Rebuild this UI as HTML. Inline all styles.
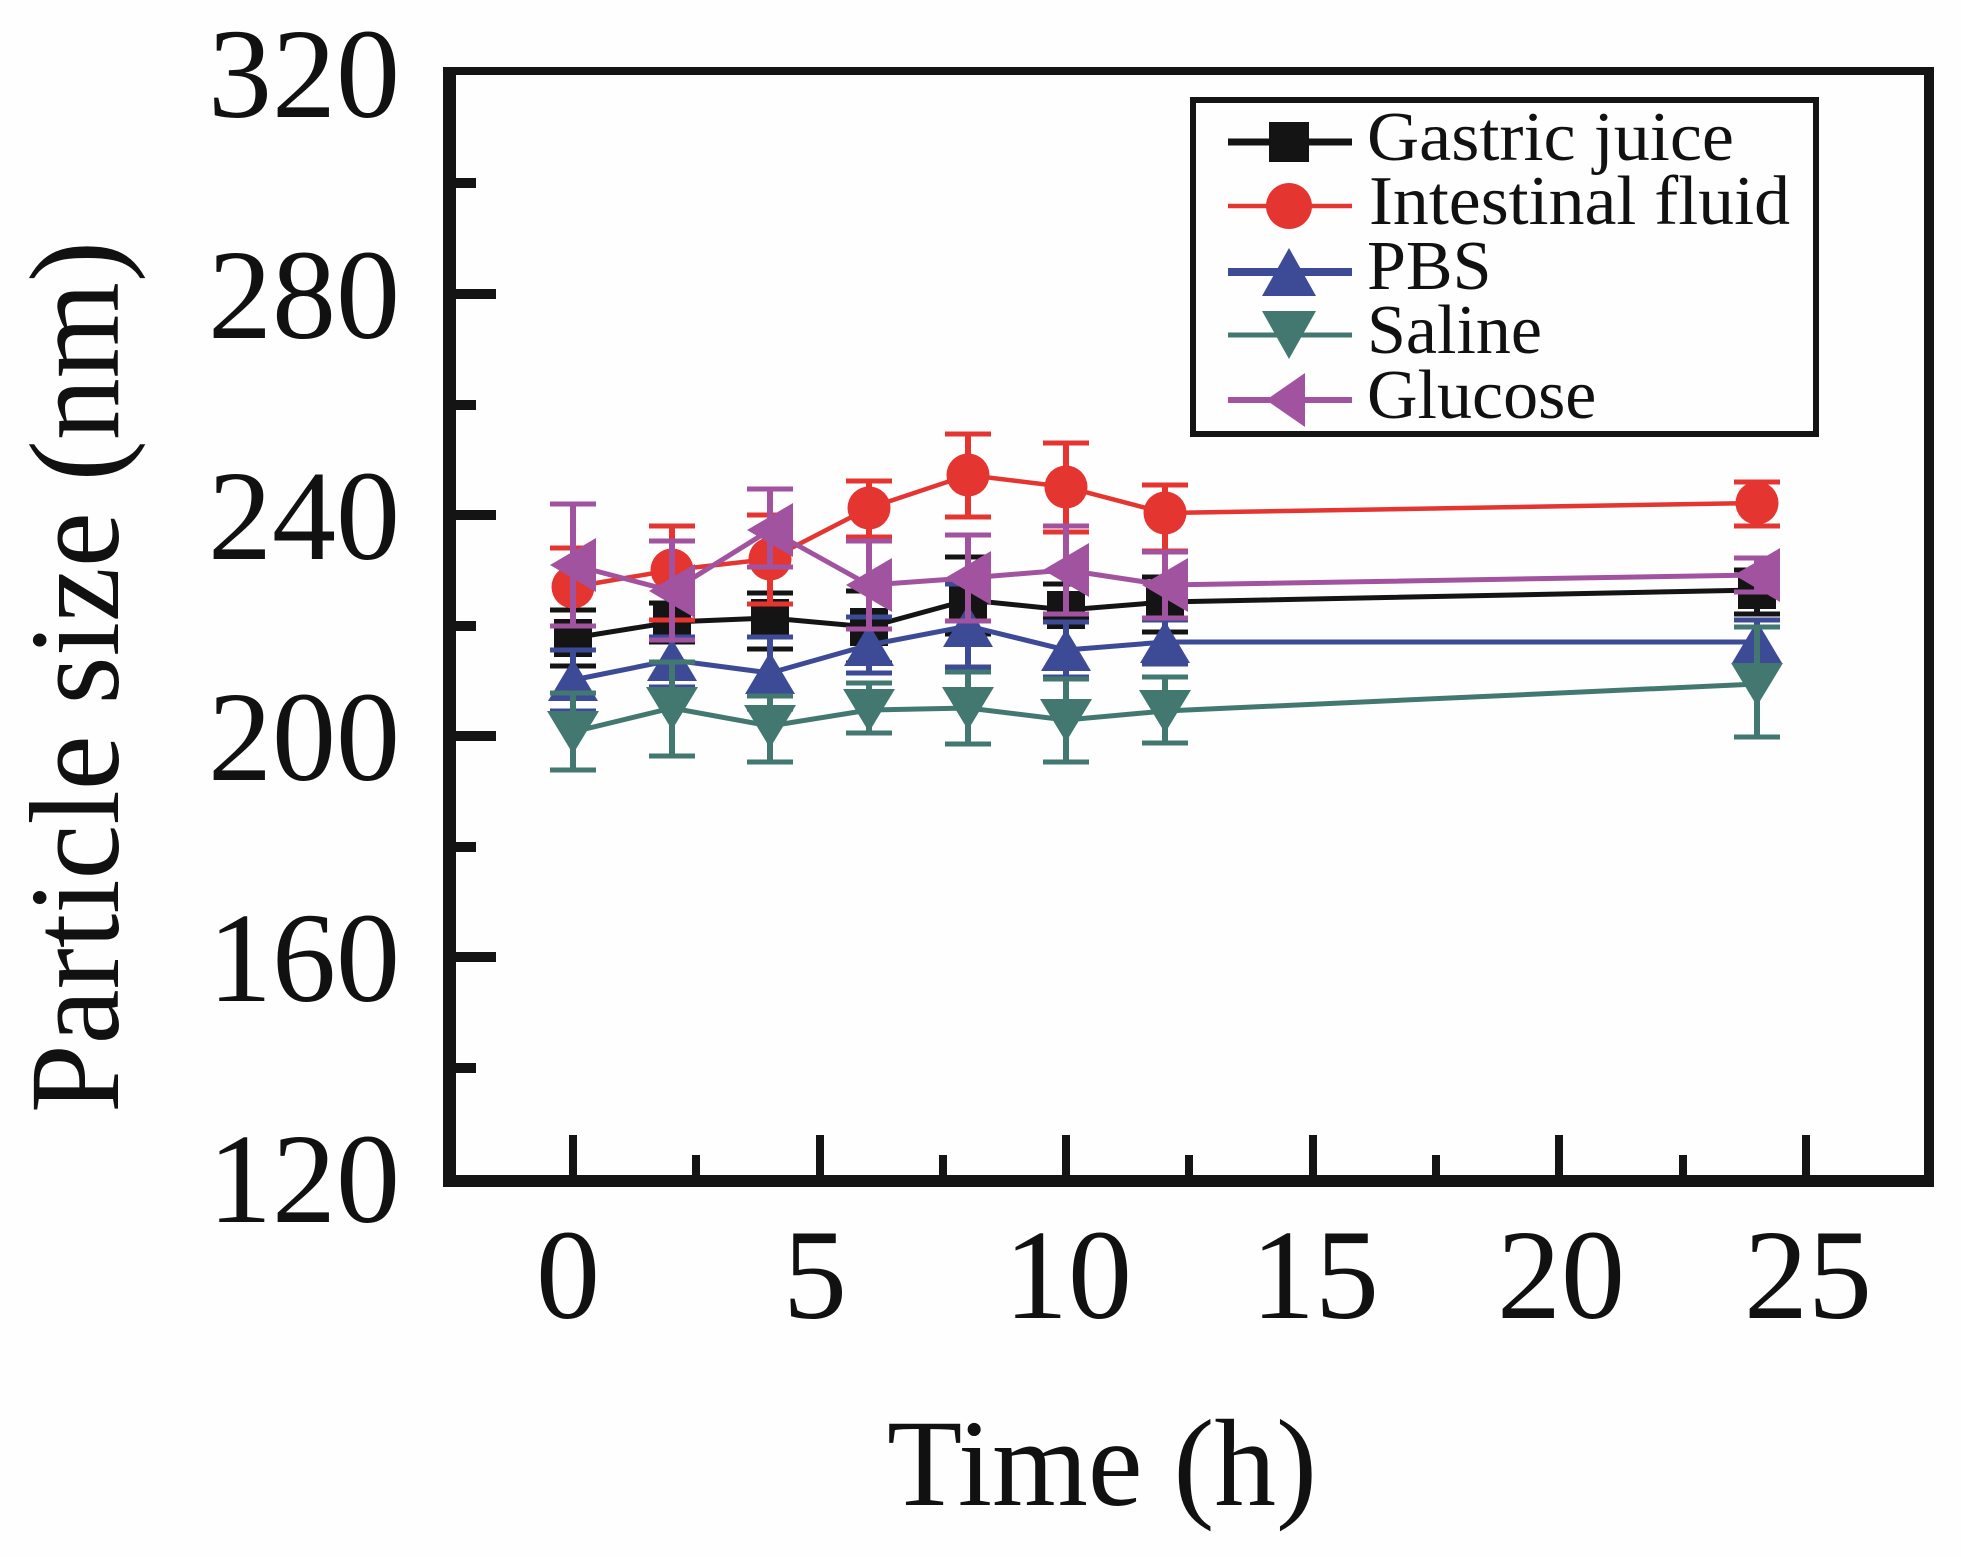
<!DOCTYPE html>
<html>
<head>
<meta charset="utf-8">
<style>
  html, body { margin: 0; padding: 0; background: #fff; }
  svg { display: block; }
  text { font-family: "Liberation Serif", "DejaVu Serif", serif; fill: #111; }
</style>
</head>
<body>
<svg width="1961" height="1557" viewBox="0 0 1961 1557" xmlns="http://www.w3.org/2000/svg">
  <rect x="0" y="0" width="1961" height="1557" fill="#fefefe"/>

  <!-- Frame -->
  <rect x="443" y="67" width="1491" height="1120" fill="#141414"/>
  <rect x="456" y="75" width="1468" height="1100" fill="#fefefe"/>

  <!-- Y ticks (inward from left axis) -->
  <g fill="#141414">
    <rect x="456" y="289" width="40" height="10"/>
    <rect x="456" y="510" width="40" height="10"/>
    <rect x="456" y="731" width="40" height="10"/>
    <rect x="456" y="952" width="40" height="10"/>
    <rect x="456" y="178" width="20" height="10"/>
    <rect x="456" y="400" width="20" height="10"/>
    <rect x="456" y="621" width="20" height="10"/>
    <rect x="456" y="842" width="20" height="10"/>
    <rect x="456" y="1063" width="20" height="10"/>
  </g>
  <!-- X ticks -->
  <g fill="#141414">
    <rect x="569" y="1135" width="8" height="40"/>
    <rect x="816" y="1135" width="8" height="40"/>
    <rect x="1062" y="1135" width="8" height="40"/>
    <rect x="1309" y="1135" width="8" height="40"/>
    <rect x="1555" y="1135" width="8" height="40"/>
    <rect x="1802" y="1135" width="8" height="40"/>
    <rect x="692" y="1155" width="8" height="20"/>
    <rect x="939" y="1155" width="8" height="20"/>
    <rect x="1185" y="1155" width="8" height="20"/>
    <rect x="1432" y="1155" width="8" height="20"/>
    <rect x="1679" y="1155" width="8" height="20"/>
  </g>

  <!-- Y tick labels -->
  <g font-size="128" text-anchor="end">
    <text x="400" y="117">320</text>
    <text x="400" y="338">280</text>
    <text x="400" y="559">240</text>
    <text x="400" y="780">200</text>
    <text x="400" y="1001">160</text>
    <text x="400" y="1222">120</text>
  </g>
  <!-- X tick labels -->
  <g font-size="128" text-anchor="middle">
    <text x="568" y="1318">0</text>
    <text x="815" y="1318">5</text>
    <text x="1068" y="1318">10</text>
    <text x="1315" y="1318">15</text>
    <text x="1561" y="1318">20</text>
    <text x="1808" y="1318">25</text>
  </g>

  <!-- Axis titles -->
  <text x="1102" y="1505" font-size="124" text-anchor="middle" textLength="430" lengthAdjust="spacingAndGlyphs">Time (h)</text>
  <text transform="translate(118,677) rotate(-90)" font-size="128" text-anchor="middle" textLength="872" lengthAdjust="spacingAndGlyphs">Particle size (nm)</text>

  <!-- Series -->
  <!-- x: 573 + t*49.32 ; y: 515 - (v-240)*5.525 -->
  <!-- Black: Gastric juice -->
  <g id="black" stroke="#141414" fill="#141414">
    <g stroke-width="6">
      <line x1="573" y1="610" x2="573" y2="666"/><line x1="672" y1="603" x2="672" y2="642"/>
      <line x1="770" y1="593" x2="770" y2="649"/><line x1="869" y1="591" x2="869" y2="663"/>
      <line x1="968" y1="557" x2="968" y2="634"/><line x1="1066" y1="584" x2="1066" y2="618"/>
      <line x1="1165" y1="577" x2="1165" y2="632"/><line x1="1757" y1="570" x2="1757" y2="614"/>
    </g>
    <g stroke-width="5">
      <line x1="550" y1="610" x2="596" y2="610"/><line x1="550" y1="666" x2="596" y2="666"/>
      <line x1="649" y1="603" x2="695" y2="603"/><line x1="649" y1="642" x2="695" y2="642"/>
      <line x1="747" y1="593" x2="793" y2="593"/><line x1="747" y1="649" x2="793" y2="649"/>
      <line x1="846" y1="591" x2="892" y2="591"/><line x1="846" y1="663" x2="892" y2="663"/>
      <line x1="945" y1="557" x2="991" y2="557"/><line x1="945" y1="634" x2="991" y2="634"/>
      <line x1="1043" y1="584" x2="1089" y2="584"/><line x1="1043" y1="618" x2="1089" y2="618"/>
      <line x1="1142" y1="577" x2="1188" y2="577"/><line x1="1142" y1="632" x2="1188" y2="632"/>
      <line x1="1734" y1="570" x2="1780" y2="570"/><line x1="1734" y1="614" x2="1780" y2="614"/>
    </g>
    <polyline fill="none" stroke-width="5" points="573,638 672,622 770,618 869,627 968,600 1066,610 1165,602 1757,590"/>
    <g stroke="none">
      <rect x="554" y="619" width="38" height="38"/><rect x="653" y="603" width="38" height="38"/>
      <rect x="751" y="599" width="38" height="38"/><rect x="850" y="608" width="38" height="38"/>
      <rect x="949" y="581" width="38" height="38"/><rect x="1047" y="591" width="38" height="38"/>
      <rect x="1146" y="583" width="38" height="38"/><rect x="1738" y="571" width="38" height="38"/>
    </g>
  </g>

  <!-- Red: Intestinal fluid -->
  <g stroke="#E53530" fill="#E53530">
    <g stroke-width="6">
      <line x1="573" y1="548" x2="573" y2="626"/><line x1="672" y1="526" x2="672" y2="620"/>
      <line x1="770" y1="515" x2="770" y2="604"/><line x1="869" y1="481" x2="869" y2="537"/>
      <line x1="968" y1="434" x2="968" y2="517"/><line x1="1066" y1="443" x2="1066" y2="532"/>
      <line x1="1165" y1="485" x2="1165" y2="551"/><line x1="1757" y1="482" x2="1757" y2="526"/>
    </g>
    <g stroke-width="5">
      <line x1="550" y1="548" x2="596" y2="548"/><line x1="550" y1="626" x2="596" y2="626"/>
      <line x1="649" y1="526" x2="695" y2="526"/><line x1="649" y1="620" x2="695" y2="620"/>
      <line x1="747" y1="515" x2="793" y2="515"/><line x1="747" y1="604" x2="793" y2="604"/>
      <line x1="846" y1="481" x2="892" y2="481"/><line x1="846" y1="537" x2="892" y2="537"/>
      <line x1="945" y1="434" x2="991" y2="434"/><line x1="945" y1="517" x2="991" y2="517"/>
      <line x1="1043" y1="443" x2="1089" y2="443"/><line x1="1043" y1="532" x2="1089" y2="532"/>
      <line x1="1142" y1="485" x2="1188" y2="485"/><line x1="1142" y1="551" x2="1188" y2="551"/>
      <line x1="1734" y1="482" x2="1780" y2="482"/><line x1="1734" y1="526" x2="1780" y2="526"/>
    </g>
    <polyline fill="none" stroke-width="4.5" points="573,587 672,570 770,559 869,508 968,475 1066,487 1165,513 1757,503"/>
    <g stroke="none">
      <circle cx="573" cy="587" r="21.5"/><circle cx="672" cy="570" r="21.5"/>
      <circle cx="770" cy="559" r="21.5"/><circle cx="869" cy="508" r="21.5"/>
      <circle cx="968" cy="475" r="21.5"/><circle cx="1066" cy="487" r="21.5"/>
      <circle cx="1165" cy="513" r="21.5"/><circle cx="1757" cy="503" r="21.5"/>
    </g>
  </g>

  <!-- Blue: PBS -->
  <g stroke="#3D4A96" fill="#3D4A96">
    <g stroke-width="6">
      <line x1="573" y1="650" x2="573" y2="711"/><line x1="672" y1="637" x2="672" y2="687"/>
      <line x1="770" y1="637" x2="770" y2="709"/><line x1="869" y1="617" x2="869" y2="673"/>
      <line x1="968" y1="584" x2="968" y2="667"/><line x1="1066" y1="622" x2="1066" y2="677"/>
      <line x1="1165" y1="620" x2="1165" y2="664"/><line x1="1757" y1="620" x2="1757" y2="664"/>
    </g>
    <g stroke-width="5">
      <line x1="550" y1="650" x2="596" y2="650"/><line x1="550" y1="711" x2="596" y2="711"/>
      <line x1="649" y1="637" x2="695" y2="637"/><line x1="649" y1="687" x2="695" y2="687"/>
      <line x1="747" y1="637" x2="793" y2="637"/><line x1="747" y1="709" x2="793" y2="709"/>
      <line x1="846" y1="617" x2="892" y2="617"/><line x1="846" y1="673" x2="892" y2="673"/>
      <line x1="945" y1="584" x2="991" y2="584"/><line x1="945" y1="667" x2="991" y2="667"/>
      <line x1="1043" y1="622" x2="1089" y2="622"/><line x1="1043" y1="677" x2="1089" y2="677"/>
      <line x1="1142" y1="620" x2="1188" y2="620"/><line x1="1142" y1="664" x2="1188" y2="664"/>
      <line x1="1734" y1="620" x2="1780" y2="620"/><line x1="1734" y1="664" x2="1780" y2="664"/>
    </g>
    <polyline fill="none" stroke-width="5" points="573,680 672,660 770,673 869,645 968,626 1066,650 1165,642 1757,642"/>
    <g stroke="none">
      <polygon points="573,659 598,701 548,701"/><polygon points="672,639 697,681 647,681"/>
      <polygon points="770,652 795,694 745,694"/><polygon points="869,624 894,666 844,666"/>
      <polygon points="968,605 993,647 943,647"/><polygon points="1066,629 1091,671 1041,671"/>
      <polygon points="1165,621 1190,663 1140,663"/><polygon points="1757,621 1782,663 1732,663"/>
    </g>
  </g>

  <!-- Teal: Saline -->
  <g stroke="#437870" fill="#437870">
    <g stroke-width="6">
      <line x1="573" y1="693" x2="573" y2="770"/><line x1="672" y1="662" x2="672" y2="756"/>
      <line x1="770" y1="696" x2="770" y2="762"/><line x1="869" y1="683" x2="869" y2="733"/>
      <line x1="968" y1="672" x2="968" y2="744"/><line x1="1066" y1="679" x2="1066" y2="762"/>
      <line x1="1165" y1="677" x2="1165" y2="743"/><line x1="1757" y1="627" x2="1757" y2="737"/>
    </g>
    <g stroke-width="5">
      <line x1="550" y1="693" x2="596" y2="693"/><line x1="550" y1="770" x2="596" y2="770"/>
      <line x1="649" y1="662" x2="695" y2="662"/><line x1="649" y1="756" x2="695" y2="756"/>
      <line x1="747" y1="696" x2="793" y2="696"/><line x1="747" y1="762" x2="793" y2="762"/>
      <line x1="846" y1="683" x2="892" y2="683"/><line x1="846" y1="733" x2="892" y2="733"/>
      <line x1="945" y1="672" x2="991" y2="672"/><line x1="945" y1="744" x2="991" y2="744"/>
      <line x1="1043" y1="679" x2="1089" y2="679"/><line x1="1043" y1="762" x2="1089" y2="762"/>
      <line x1="1142" y1="677" x2="1188" y2="677"/><line x1="1142" y1="743" x2="1188" y2="743"/>
      <line x1="1734" y1="627" x2="1780" y2="627"/><line x1="1734" y1="737" x2="1780" y2="737"/>
    </g>
    <polyline fill="none" stroke-width="5" points="573,732 672,708 770,726 869,710 968,708 1066,720 1165,711 1757,684"/>
    <g stroke="none">
      <polygon points="547,711 599,711 573,754"/><polygon points="646,687 698,687 672,730"/>
      <polygon points="744,705 796,705 770,748"/><polygon points="843,689 895,689 869,732"/>
      <polygon points="942,687 994,687 968,730"/><polygon points="1040,699 1092,699 1066,742"/>
      <polygon points="1139,690 1191,690 1165,733"/><polygon points="1731,663 1783,663 1757,706"/>
    </g>
  </g>

  <!-- Purple: Glucose -->
  <g stroke="#A153A0" fill="#A153A0">
    <g stroke-width="6">
      <line x1="573" y1="504" x2="573" y2="626"/><line x1="672" y1="541" x2="672" y2="640"/>
      <line x1="770" y1="489" x2="770" y2="567"/><line x1="869" y1="541" x2="869" y2="629"/>
      <line x1="968" y1="535" x2="968" y2="621"/><line x1="1066" y1="526" x2="1066" y2="614"/>
      <line x1="1165" y1="552" x2="1165" y2="618"/><line x1="1757" y1="558" x2="1757" y2="592"/>
    </g>
    <g stroke-width="5">
      <line x1="550" y1="504" x2="596" y2="504"/><line x1="550" y1="626" x2="596" y2="626"/>
      <line x1="649" y1="541" x2="695" y2="541"/><line x1="649" y1="640" x2="695" y2="640"/>
      <line x1="747" y1="489" x2="793" y2="489"/><line x1="747" y1="567" x2="793" y2="567"/>
      <line x1="846" y1="541" x2="892" y2="541"/><line x1="846" y1="629" x2="892" y2="629"/>
      <line x1="945" y1="535" x2="991" y2="535"/><line x1="945" y1="621" x2="991" y2="621"/>
      <line x1="1043" y1="526" x2="1089" y2="526"/><line x1="1043" y1="614" x2="1089" y2="614"/>
      <line x1="1142" y1="552" x2="1188" y2="552"/><line x1="1142" y1="618" x2="1188" y2="618"/>
      <line x1="1734" y1="558" x2="1780" y2="558"/><line x1="1734" y1="592" x2="1780" y2="592"/>
    </g>
    <polyline fill="none" stroke-width="5" points="573,565 672,591 770,530 869,585 968,578 1066,570 1165,585 1757,575"/>
    <g stroke="none">
      <polygon points="550,565 596,538 596,592"/><polygon points="649,591 695,564 695,618"/>
      <polygon points="747,530 793,503 793,557"/><polygon points="846,585 892,558 892,612"/>
      <polygon points="945,578 991,551 991,605"/><polygon points="1043,570 1089,543 1089,597"/>
      <polygon points="1142,585 1188,558 1188,612"/><polygon points="1734,575 1780,548 1780,602"/>
    </g>
  </g>

  <!-- Legend -->
  <rect x="1193" y="100" width="623" height="334" fill="#fefefe" stroke="#141414" stroke-width="6"/>
  <g>
    <line x1="1228" y1="142" x2="1352" y2="142" stroke="#141414" stroke-width="7"/>
    <rect x="1269" y="122" width="40" height="40" fill="#141414"/>
    <line x1="1228" y1="206" x2="1352" y2="206" stroke="#E53530" stroke-width="4.5"/>
    <circle cx="1289" cy="206" r="23" fill="#E53530"/>
    <line x1="1228" y1="272" x2="1352" y2="272" stroke="#3D4A96" stroke-width="8"/>
    <polygon points="1289,248 1316,296 1262,296" fill="#3D4A96"/>
    <line x1="1228" y1="335" x2="1352" y2="335" stroke="#437870" stroke-width="5"/>
    <polygon points="1262,311 1316,311 1289,359" fill="#437870"/>
    <line x1="1228" y1="400" x2="1352" y2="400" stroke="#A153A0" stroke-width="6"/>
    <polygon points="1266,400 1305,373 1305,427" fill="#A153A0"/>
  </g>
  <g font-size="70">
    <text x="1367" y="160" textLength="367" lengthAdjust="spacingAndGlyphs">Gastric juice</text>
    <text x="1369" y="224" textLength="421" lengthAdjust="spacingAndGlyphs">Intestinal fluid</text>
    <text x="1367" y="289">PBS</text>
    <text x="1367" y="353">Saline</text>
    <text x="1367" y="418">Glucose</text>
  </g>
</svg>
</body>
</html>
